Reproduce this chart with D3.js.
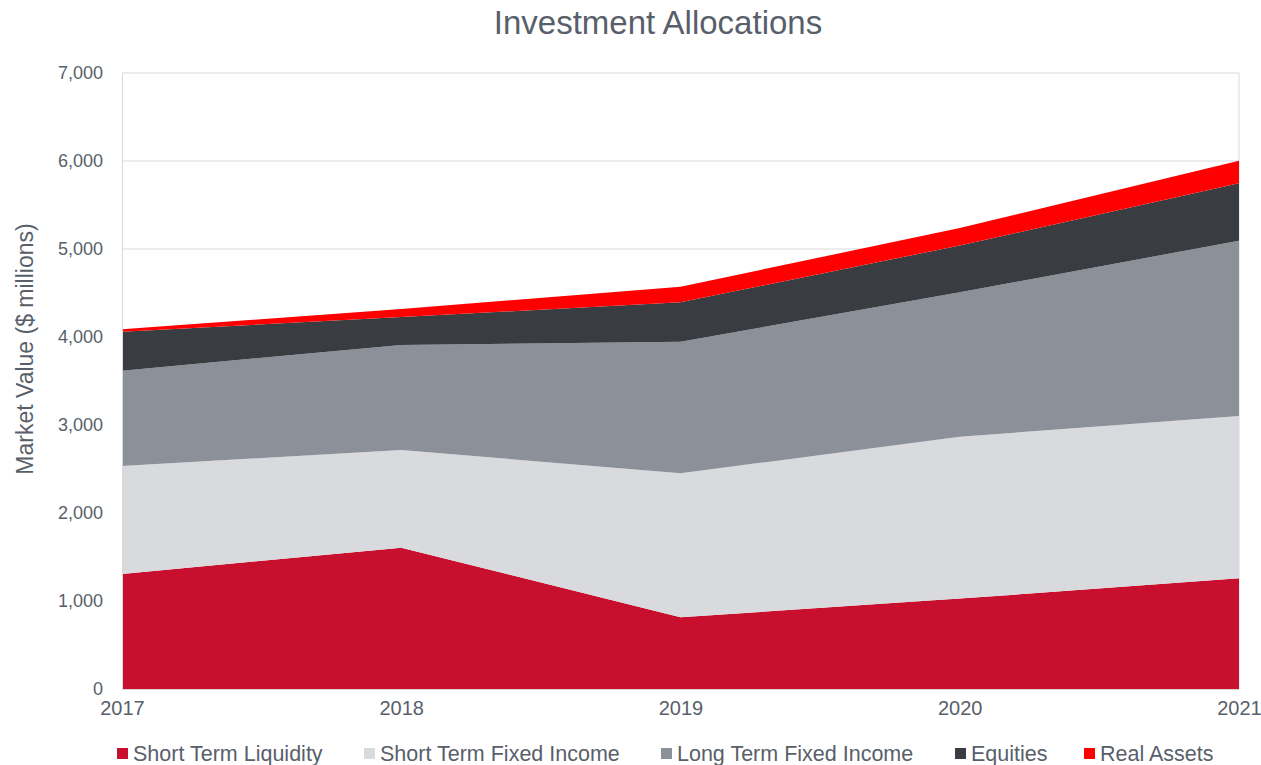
<!DOCTYPE html>
<html>
<head>
<meta charset="utf-8">
<script src="https://cdn.jsdelivr.net/npm/d3@7"></script>
<style>
  body { margin:0; background:#fff; }
  text { font-family: "Liberation Sans", Arial, sans-serif; fill:#595f6a; }
</style>
</head>
<body>
<svg id="chart" width="1261" height="765"></svg>
<script>
const years = [2017, 2018, 2019, 2020, 2021];
const seriesNames = ['Short Term Liquidity','Short Term Fixed Income','Long Term Fixed Income','Equities','Real Assets'];
const shortTermLiquidity = [1307, 1606, 815, 1027, 1258];
const shortTermFixed = [1227, 1110, 1636, 1840, 1844];
const longTermFixed = [1083, 1193, 1496, 1641, 1992];
const equities = [443, 318, 447, 532, 653];
const realAssets = [28, 91, 177, 199, 256];
const yTicks = [0, 1000, 2000, 3000, 4000, 5000, 6000, 7000];
const colors = ['#c8102e', '#d9dadd', '#8c9099', '#393c41', '#ff0000'];

const svg = d3.select('#chart');
const margin = { top:73, right:22, bottom:76, left:122 };
const width = +svg.attr('width');
const height = +svg.attr('height');
const innerWidth = width - margin.left - margin.right;
const innerHeight = height - margin.top - margin.bottom;

const data = years.map((y, i) => ({
    year: y,
    'Short Term Liquidity': shortTermLiquidity[i],
    'Short Term Fixed Income': shortTermFixed[i],
    'Long Term Fixed Income': longTermFixed[i],
    'Equities': equities[i],
    'Real Assets': realAssets[i]
}));

const stacked = d3.stack().keys(seriesNames)(data);

const xscale = d3.scaleLinear()
    .domain(d3.extent(years))
    .range([0, innerWidth]);

const yscale = d3.scaleLinear()
    .domain([0, 7000])
    .range([innerHeight, 0]);

const g = svg.append('g')
    .attr('transform', `translate(${margin.left},${margin.top})`);

// gridlines
g.append('g').selectAll('line').data(yTicks)
    .enter().append('line')
        .attr('x1', 0).attr('x2', innerWidth)
        .attr('y1', d => yscale(d)).attr('y2', d => yscale(d))
        .attr('stroke', '#d9d9d9').attr('stroke-width', 1);

g.append('line')
    .attr('x1', innerWidth).attr('x2', innerWidth)
    .attr('y1', 0).attr('y2', innerHeight)
    .attr('stroke', '#d9d9d9');

const area = d3.area()
    .x(d => xscale(d.data.year))
    .y0(d => yscale(d[0]))
    .y1(d => yscale(d[1]));

g.selectAll('path.layer').data(stacked)
    .enter().append('path')
        .attr('class', 'layer')
        .attr('d', area)
        .attr('fill', (d, i) => colors[i]);

// axes
const yAxis = g.append('g')
    .call(d3.axisLeft(yscale).tickValues(yTicks).tickFormat(d3.format(',')).tickSize(0).tickPadding(19));
yAxis.select('.domain').attr('stroke', '#d9d9d9');
yAxis.selectAll('text').attr('font-size', '18px').attr('fill', '#595f6a');

const xAxis = g.append('g')
    .attr('transform', `translate(0,${innerHeight})`)
    .call(d3.axisBottom(xscale).tickValues(years).tickFormat(d3.format('d')).tickSize(0).tickPadding(12));
xAxis.select('.domain').attr('stroke', '#d9d9d9');
xAxis.selectAll('text').attr('font-size', '20px').attr('fill', '#595f6a');

yAxis.append('text')
    .attr('transform', 'rotate(-90)')
    .attr('x', -(349 - margin.top))
    .attr('y', -89)
    .attr('text-anchor', 'middle')
    .attr('font-size', '23px')
    .text('Market Value ($ millions)');

svg.append('text')
    .attr('x', 658)
    .attr('y', 34)
    .attr('text-anchor', 'middle')
    .attr('font-size', '33px')
    .text('Investment Allocations');

// legend
const legendX = [117, 364, 661, 955, 1084];
const legend = svg.append('g').selectAll('g').data(seriesNames)
    .enter().append('g')
        .attr('transform', (d, i) => `translate(${legendX[i]},748)`);
legend.append('rect')
    .attr('width', 11).attr('height', 11)
    .attr('fill', (d, i) => colors[i]);
legend.append('text')
    .attr('x', 16).attr('y', 13)
    .attr('font-size', '21.5px')
    .text(d => d);
</script>
</body>
</html>
